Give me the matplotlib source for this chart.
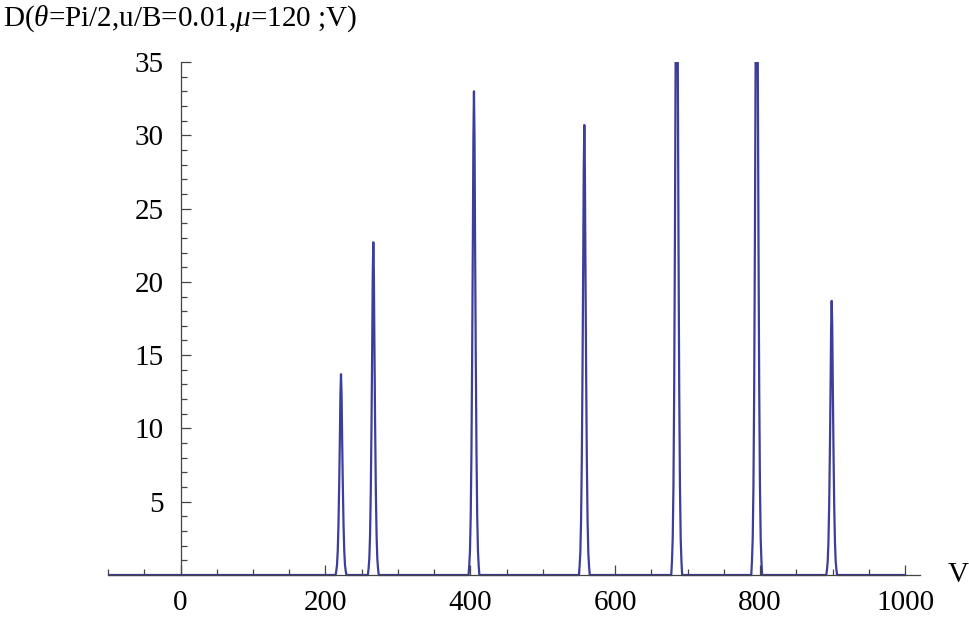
import numpy as np
import matplotlib
matplotlib.use("Agg")
import matplotlib.pyplot as plt
from matplotlib.ticker import MultipleLocator, FixedLocator

plt.rcParams['font.family'] = ['Liberation Serif', 'DejaVu Serif']
plt.rcParams['mathtext.fontset'] = 'custom'
plt.rcParams['mathtext.rm'] = 'Liberation Serif'
plt.rcParams['mathtext.it'] = 'Liberation Serif:italic'

# peak positions (V) and heights; two peaks run off the top
peak_v = [221.5, 266.1, 405.0, 557.3, 684.8, 795.2, 898.7]
peak_h = [13.7, 22.7, 33.0, 30.7, 50.0, 50.0, 18.7]

# shape of one peak: offset in V and height relative to the top
shape_dv = [-7.5, -6.5, -5.5, -4.5, -3.5, -2.5, -1.5, -0.8, 0, 0.8, 1.5, 2.5, 3.5, 4.5, 5.5, 6.5, 7.5]
shape_rel = [0.0, 0.02, 0.05, 0.12, 0.25, 0.45, 0.70, 0.90, 1.0,
             0.90, 0.70, 0.45, 0.25, 0.12, 0.05, 0.02, 0.0]

v_start, v_end = -100, 1000
xticks = [0, 200, 400, 600, 800, 1000]
yticks = [5, 10, 15, 20, 25, 30, 35]
yminor = list(range(1, 35))

# build the curve from the peak list
xs = [v_start]
ys = [0.0]
for c, h in zip(peak_v, peak_h):
    for dv, r in zip(shape_dv, shape_rel):
        xs.append(c + dv)
        ys.append(h * r)
xs.append(v_end)
ys.append(0.0)

fig = plt.figure(figsize=(9.69, 6.18), dpi=100)
ax = fig.add_axes([0.1115, 0.034, 0.839, 0.8657])

ax.plot(xs, ys, color='#3d3d9c', lw=1.6, solid_joinstyle='round')

ax.set_xlim(-100, 1022)
ax.set_ylim(-1.5, 35)

for s in ['top', 'right']:
    ax.spines[s].set_visible(False)
ax.spines['left'].set_position(('data', 0))
ax.spines['bottom'].set_position(('data', 0))
ax.spines['left'].set_bounds(0, 35)
ax.spines['bottom'].set_bounds(-100, 1020)
for s in ['left', 'bottom']:
    ax.spines[s].set_color('#444444')
    ax.spines[s].set_linewidth(0.9)

ax.xaxis.set_major_locator(FixedLocator(xticks))
ax.xaxis.set_minor_locator(MultipleLocator(50))
ax.yaxis.set_major_locator(FixedLocator(yticks))
ax.yaxis.set_minor_locator(FixedLocator(yminor))

ax.tick_params(which='both', direction='in', color='#444444', width=0.9, labelsize=21)
ax.tick_params(axis='x', which='major', length=7, pad=11)
ax.tick_params(axis='x', which='minor', length=4)
ax.tick_params(axis='y', which='major', length=7, pad=12)
ax.tick_params(axis='y', which='minor', length=4)

fig.text(0.003, 0.969, r'D($\theta$=Pi/2,u/B=0.01,$\mu$=120 ;V)', fontsize=21,
         ha='left', va='center')
ax.annotate('V', xy=(1.0, 0.0), xycoords=('axes fraction', 'data'),
            xytext=(19, 0), textcoords='offset points', fontsize=21,
            ha='left', va='center')

fig.savefig('out.png', dpi=100)
